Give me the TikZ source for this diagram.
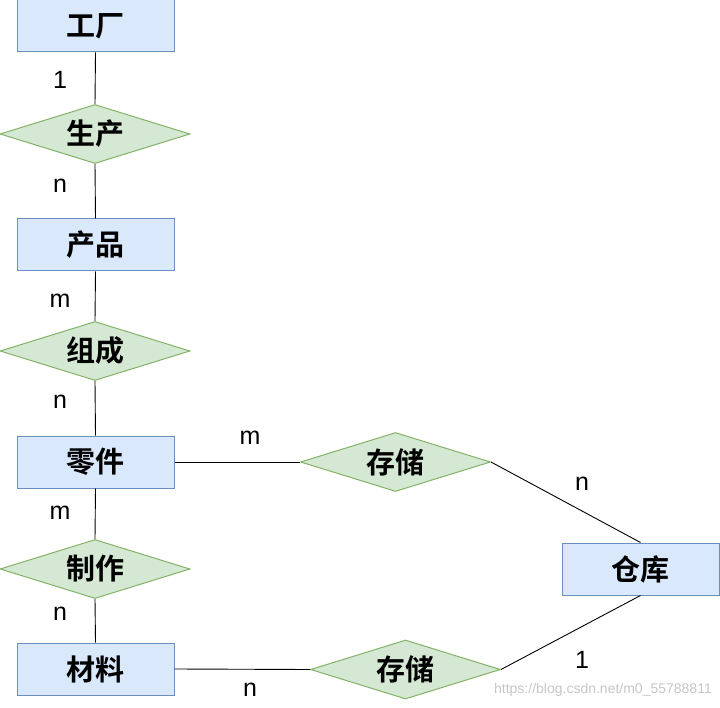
\documentclass[tikz,border=0pt]{standalone}
\usepackage{fontspec}
\setmainfont{Liberation Sans}
\newfontfamily\cjk{Noto Sans CJK SC Bold}
\usetikzlibrary{shapes.geometric}
\definecolor{entfill}{HTML}{DAE8FC}
\definecolor{entline}{HTML}{6C8EBF}
\definecolor{relfill}{HTML}{D5E8D4}
\definecolor{relline}{HTML}{82B366}
\tikzset{
  entity/.style={draw=entline, fill=entfill, line width=1pt, minimum width=157pt, minimum height=52pt, inner sep=0pt, font=\cjk\fontsize{29}{32}\selectfont},
  relation/.style={draw=relline, fill=relfill, line width=1pt, diamond, aspect=3.2, minimum width=190pt, minimum height=59pt, inner sep=0pt, font=\cjk\fontsize{29}{32}\selectfont},
  conn/.style={draw=black, line width=0.9pt},
  card/.style={font=\fontsize{25}{27}\selectfont, inner sep=0pt}
}
\begin{document}
\begin{tikzpicture}[x=1pt,y=-1pt]
\useasboundingbox[fill=white] (0,0) rectangle (720,708);
\node[entity] (gc) at (95.5,26) {工厂};
\node[relation] (sc) at (95,134) {生产};
\node[entity] (cp) at (95.5,245) {产品};
\node[relation] (zc) at (95,351) {组成};
\node[entity] (lj) at (95.5,462) {零件};
\node[relation] (zz) at (95,569) {制作};
\node[entity] (cl) at (95.5,669) {材料};
\node[relation] (cc1) at (395.5,462) {存储};
\node[relation] (cc2) at (405.5,669.5) {存储};
\node[entity] (ck) at (640.5,569) {仓库};
\draw[conn] (gc.south) -- (sc.north);
\draw[conn] (sc.south) -- (cp.north);
\draw[conn] (cp.south) -- (zc.north);
\draw[conn] (zc.south) -- (lj.north);
\draw[conn] (lj.south) -- (zz.north);
\draw[conn] (zz.south) -- (cl.north);
\draw[conn] (lj.east) -- (cc1.west);
\draw[conn] (cc1.east) -- (ck.north);
\draw[conn] (cl.east) -- (cc2.west);
\draw[conn] (cc2.east) -- (ck.south);
\node[card] (l1) at (60,80) {1};
\node[card] (l2) at (60,186) {n};
\node[card] (l3) at (60,301) {m};
\node[card] (l4) at (60,402) {n};
\node[card] (l5) at (60,513) {m};
\node[card] (l6) at (60,614) {n};
\node[card] (l7) at (250,438) {m};
\node[card] (l8) at (582,484) {n};
\node[card] (l9) at (250,690) {n};
\node[card] (l10) at (582,660) {1};
\node[font=\fontsize{14}{16}\selectfont, text=black!22, anchor=east, inner sep=0pt] (wm) at (712,690) {https://blog.csdn.net/m0\_55788811};
\end{tikzpicture}
\end{document}
